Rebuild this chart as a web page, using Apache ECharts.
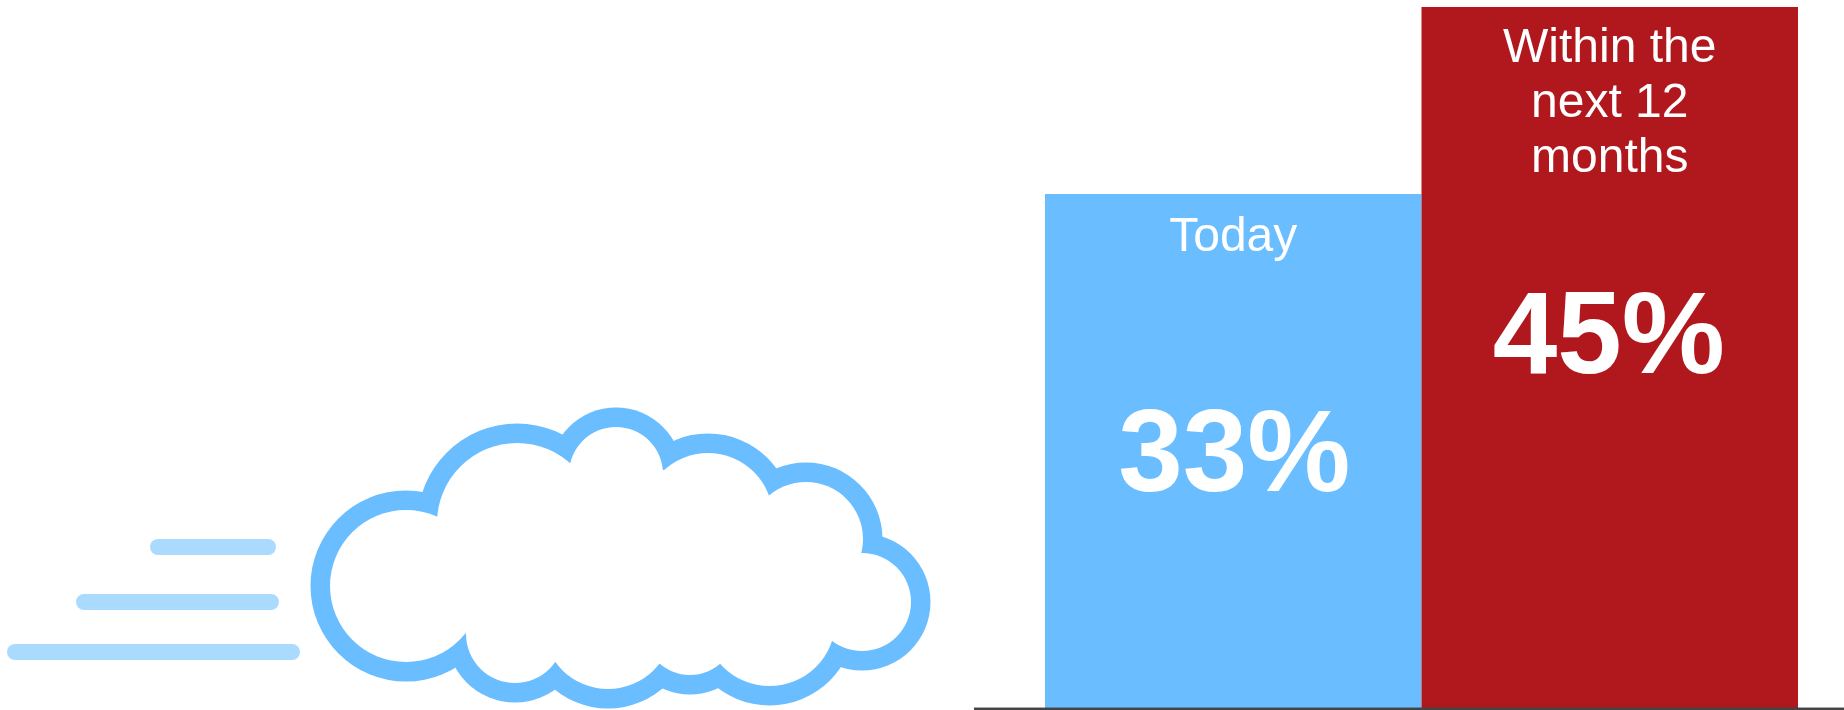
<!DOCTYPE html>
<html>
<head>
<meta charset="utf-8">
<style>html,body{margin:0;padding:0;background:#fff;overflow:hidden}#c{width:1844px;height:710px}</style>
<script src="https://cdn.jsdelivr.net/npm/echarts@6/dist/echarts.min.js"></script>
</head>
<body>
<div id="c"></div>
<script>
const categories = ['Today', 'Within the\nnext 12\nmonths'];
const values = [33, 45];
const barColors = ['#6ABDFF', '#B0181E'];
const nameLabelDistances = [16, 14.5];
const valueLabelOffsets = [[1, 8.5], [-1, -16.7]];

const CLOUD = '#6ABDFF', WIND = '#AADBFF';
const lobes = [[406,586,76],[517,523,80],[616,474,47],[708,518,65],[806,539,57],[862,602,49],
               [515,634,49],[608,624,65],[690,629,46],[769.5,620,66]];
const ring = 19.5;
const core = [[439,518],[570,463],[664,470],[769.5,496],[860,554],[832,639],[720,664],[660,664],[555,662],[465,633]];
const windBars = [[150,539,126,16],[76,594,203,16],[7,644,293,16]];

const graphic = [];
windBars.forEach(b => graphic.push({type:'rect',shape:{x:b[0],y:b[1],width:b[2],height:b[3],r:8},style:{fill:WIND},silent:true}));
lobes.forEach(l => graphic.push({type:'circle',shape:{cx:l[0],cy:l[1],r:l[2]+ring},style:{fill:CLOUD},silent:true}));
lobes.forEach(l => graphic.push({type:'circle',shape:{cx:l[0],cy:l[1],r:l[2]},style:{fill:'#fff'},silent:true}));
graphic.push({type:'polygon',shape:{points:core},style:{fill:'#fff'},silent:true});
graphic.push({type:'rect',shape:{x:974,y:707,width:870,height:1},style:{fill:'rgba(68,68,68,0.45)'},silent:true,z:10});
graphic.push({type:'rect',shape:{x:974,y:708,width:870,height:2},style:{fill:'#444'},silent:true,z:10});

const chart = echarts.init(document.getElementById('c'), null, {renderer:'canvas'});
chart.setOption({
  animation:false,
  backgroundColor:'#fff',
  graphic,
  grid:{left:1045,width:753,top:7,height:701},
  xAxis:{type:'category',data:categories,axisLine:{show:false},axisTick:{show:false},axisLabel:{show:false}},
  yAxis:{type:'value',min:0,max:45,show:false,splitLine:{show:false}},
  series:[
    {
      type:'bar',barWidth:'100%',barGap:'-100%',
      data:values.map((v,i)=>({value:v,itemStyle:{color:barColors[i]},label:{distance:nameLabelDistances[i]}})),
      label:{show:true,position:'insideTop',formatter:p=>p.name,color:'#fff',
        fontFamily:'Liberation Sans',fontSize:48,lineHeight:55,align:'center'}
    },
    {
      type:'bar',barWidth:'100%',barGap:'-100%',
      data:values.map((v,i)=>({value:v,itemStyle:{color:'rgba(0,0,0,0)'},label:{offset:valueLabelOffsets[i]}})),
      label:{show:true,position:'inside',formatter:p=>p.value+'%',color:'#fff',
        fontFamily:'Liberation Sans',fontWeight:'bold',fontSize:116}
    }
  ]
});
</script>
</body>
</html>
